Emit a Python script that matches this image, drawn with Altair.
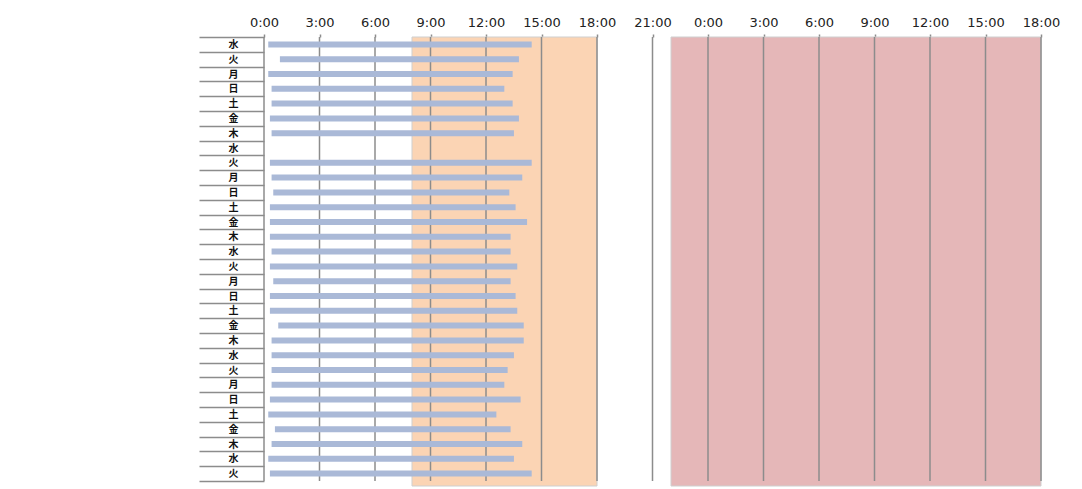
import altair as alt
import pandas as pd

days = ["水", "火", "月", "日", "土", "金", "木", "水", "火", "月",
        "日", "土", "金", "木", "水", "火", "月", "日", "土", "金",
        "木", "水", "火", "月", "日", "土", "金", "木", "水", "火"]
start_h = [0.23, 0.86, 0.23, 0.41, 0.41, 0.32, 0.41, None, 0.32, 0.41,
           0.50, 0.32, 0.32, 0.32, 0.41, 0.32, 0.50, 0.32, 0.32, 0.77,
           0.41, 0.41, 0.41, 0.41, 0.32, 0.23, 0.59, 0.41, 0.23, 0.32]
end_h = [14.47, 13.78, 13.44, 12.99, 13.44, 13.78, 13.51, None, 14.47, 13.96,
         13.26, 13.60, 14.22, 13.33, 13.33, 13.69, 13.33, 13.60, 13.69, 14.04,
         14.04, 13.51, 13.17, 12.99, 13.87, 12.56, 13.33, 13.96, 13.51, 14.47]
span_start = [8, 22]
span_end = [18, 42]
span_color = ["#FBD4B4", "#E5B7B8"]
tick_hours = list(range(0, 43, 3))

ids = [f"{d}_{i}" for i, d in enumerate(days)]
bars = pd.DataFrame({"row": ids, "start": start_h, "end": end_h}).dropna()
spans = pd.DataFrame({"s": span_start, "e": span_end, "c": span_color})
ticks = pd.DataFrame({"h": tick_hours})

W, H = 777, 444
xscale = alt.Scale(domain=[0, 42], nice=False, zero=False)

bg = alt.Chart(spans).mark_rect(strokeWidth=1, stroke="#cfcfcf").encode(
    x=alt.X("s:Q", scale=xscale,
            axis=alt.Axis(orient="top", values=tick_hours,
                          labelExpr="(datum.value % 24) + ':00'",
                          grid=False, domain=False, ticks=True,
                          tickSize=3, tickColor="#8c8c8c", tickWidth=1.5,
                          labelPadding=5, labelFont="DejaVu Sans",
                          labelFontSize=13, labelColor="#222222",
                          labelOverlap=False, labelFlush=False, labelBound=False),
            title=None),
    x2="e:Q",
    y=alt.value(0),
    y2=alt.value(H + 5),
    color=alt.Color("c:N", scale=None),
)

grid = alt.Chart(ticks).mark_rule(color="#8c8c8c", strokeWidth=1.5).encode(
    x=alt.X("h:Q", scale=xscale),
    y=alt.value(0),
    y2=alt.value(H),
)

bar = alt.Chart(bars).mark_bar(size=6, color="#AAB9D7").encode(
    x=alt.X("start:Q", scale=xscale),
    x2="end:Q",
    y=alt.Y("row:N", sort=None,
            scale=alt.Scale(domain=ids, paddingInner=0, paddingOuter=0),
            axis=alt.Axis(labelExpr="isValid(datum.value) ? split(datum.value, '_')[0] : ''",
                          tickBand="extent", tickSize=65, tickColor="#8c8c8c",
                          tickWidth=1.5, labelPadding=-34, labelAlign="center",
                          labelBaseline="middle", domain=False, grid=False,
                          labelOverlap=False,
                          labelFont="Noto Sans CJK JP", labelFontSize=10,
                          labelFontWeight="bold", labelColor="#111111"),
            title=None),
)

chart = alt.layer(bg, grid, bar).properties(
    width=W, height=H,
    autosize=alt.AutoSizeParams(type="none"),
    padding={"left": 256, "top": 29, "right": 30, "bottom": 6},
).configure_view(stroke=None)

chart.save("out.html", embed_options={"renderer": "svg", "actions": False})
